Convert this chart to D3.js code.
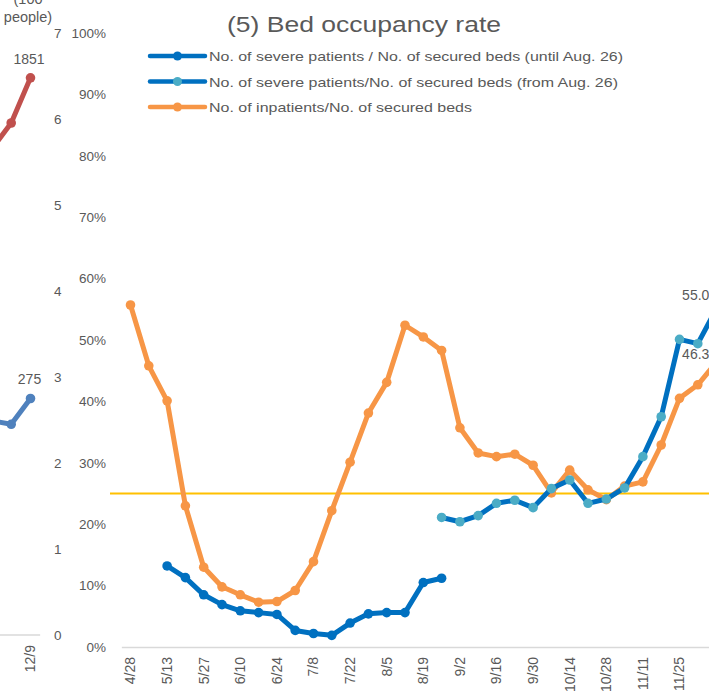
<!DOCTYPE html>
<html><head><meta charset="utf-8">
<script src="https://cdn.jsdelivr.net/npm/d3@7"></script>
<style>body{margin:0;background:#fff}svg{display:block}text{font-family:"Liberation Sans",Arial,sans-serif;fill:#595959}</style>
</head><body>
<svg id="c" width="709" height="691"></svg>
<script>
const categories = ["4/28","5/6","5/13","5/20","5/27","6/3","6/10","6/17","6/24","7/1","7/8","7/15","7/22","7/29","8/5","8/12","8/19","8/26","9/2","9/9","9/16","9/23","9/30","10/7","10/14","10/21","10/28","11/4","11/11","11/18","11/25","12/2","12/9"];
const inpatientsRate = [55.7,45.8,40.1,23.0,13.0,9.8,8.5,7.3,7.4,9.2,13.9,22.2,30.1,38.1,43.1,52.4,50.5,48.3,35.7,31.6,31.0,31.4,29.6,25.1,28.8,25.6,24.0,26.2,26.9,32.9,40.5,42.7,46.3];
const severeUntil = [null,null,13.2,11.3,8.5,6.9,5.9,5.6,5.3,2.7,2.2,1.9,3.9,5.4,5.6,5.6,10.5,11.2,null,null,null,null,null,null,null,null,null,null,null,null,null,null,null];
const severeFrom = [null,null,null,null,null,null,null,null,null,null,null,null,null,null,null,null,null,21.1,20.4,21.4,23.4,23.9,22.7,25.8,27.2,23.4,24.1,25.9,31.0,37.5,50.1,49.4,55.0];
const thresholdRate = 25;
const pctTicks = [0,10,20,30,40,50,60,70,80,90,100];
const labelCats = categories.filter((d,i)=>i%2===0);
const seriesNames = ["No. of severe patients / No. of secured beds (until Aug. 26)","No. of severe patients/No. of secured beds (from Aug. 26)","No. of inpatients/No. of secured beds"];
// neighbouring (cropped) chart on the left
const leftCategories = ["11/25","12/2","12/9"];
const leftRedValues = [1615,1701,1851];
const leftBlueValues = [2.49,2.45,2.75];
const leftTicks = [0,1,2,3,4,5,6,7];

const C = {dark:"#0070C0", light:"#4BACC6", orange:"#F79646", red:"#C0504D", blue2:"#4F81BD", yellow:"#FFC000", axis:"#D9D9D9"};
const svg = d3.select("#c");

// ---------- left cropped chart ----------
const lx = d3.scaleBand().domain(leftCategories).range([-17.75, 40.15]).padding(0);
const lcx = d => lx(d)+lx.bandwidth()/2;
const lyRight = d3.scaleLinear().domain([0,7]).range([635,33]);
const lyLeft = d3.scaleLinear().domain([0,2000]).range([635,33]);
const gl = svg.append("g");
gl.append("line").attr("x1",0).attr("x2",lx.range()[1]).attr("y1",635).attr("y2",635).attr("stroke",C.axis).attr("stroke-width",1.5);
gl.append("g").attr("transform","translate(54,0)").call(d3.axisRight(lyRight).tickValues(leftTicks).tickSize(0).tickPadding(0).tickFormat(d3.format("d")))
  .call(g=>g.select(".domain").remove()).selectAll("text").attr("font-size",13.5).style("fill","#595959");
gl.append("text").attr("x",28).attr("y",4).attr("text-anchor","middle").attr("font-size",14.5).text("(100");
gl.append("text").attr("x",28).attr("y",22).attr("text-anchor","middle").attr("font-size",14.5).text("people)");
gl.append("text").attr("transform",`translate(${lcx("12/9")},645) rotate(-90)`).attr("text-anchor","end").attr("dy","0.35em").attr("font-size",14).text("12/9");
const lineRed = d3.line().x((d,i)=>lcx(leftCategories[i])).y(d=>lyLeft(d));
const lineBlue2 = d3.line().x((d,i)=>lcx(leftCategories[i])).y(d=>lyRight(d));
gl.append("path").datum(leftRedValues).attr("d",lineRed).attr("fill","none").attr("stroke",C.red).attr("stroke-width",5).attr("stroke-linejoin","round");
gl.append("path").datum(leftBlueValues).attr("d",lineBlue2).attr("fill","none").attr("stroke",C.blue2).attr("stroke-width",5).attr("stroke-linejoin","round");
gl.selectAll(".rm").data(leftRedValues).join("circle").attr("cx",(d,i)=>lcx(leftCategories[i])).attr("cy",d=>lyLeft(d)).attr("r",4.8).attr("fill",C.red);
gl.selectAll(".bm").data(leftBlueValues).join("circle").attr("cx",(d,i)=>lcx(leftCategories[i])).attr("cy",d=>lyRight(d)).attr("r",4.8).attr("fill",C.blue2);
gl.append("text").attr("x",lcx("12/9")-1.5).attr("y",lyLeft(leftRedValues[2])-19).attr("dy","0.35em").attr("text-anchor","middle").attr("font-size",14).text(leftRedValues[2]);
gl.append("text").attr("x",lcx("12/9")-1).attr("y",lyRight(leftBlueValues[2])-19).attr("dy","0.35em").attr("text-anchor","middle").attr("font-size",14).text(Math.round(leftBlueValues[2]*100));

// ---------- main chart ----------
const x = d3.scaleBand().domain(categories).range([121.35, 121.35+18.3*categories.length]).padding(0);
const cx = d => x(d)+x.bandwidth()/2;
const y = d3.scaleLinear().domain([0,100]).range([647,33]);

// y axis labels
svg.append("g").attr("transform","translate(109,0)")
  .call(d3.axisLeft(y).tickValues(pctTicks).tickSize(0).tickPadding(3).tickFormat(d=>d+"%"))
  .call(g=>g.select(".domain").remove())
  .selectAll("text").attr("font-size",13.5).style("fill","#595959");

// x axis
const xa = svg.append("g").attr("transform","translate(0,647)")
  .call(d3.axisBottom(x).tickValues(labelCats).tickSize(0).tickPadding(0));
xa.select(".domain").attr("stroke",C.axis).attr("stroke-width",1.5);
xa.selectAll("text").attr("font-size",14).style("fill","#595959")
  .attr("text-anchor","end").attr("transform","translate(0,10) rotate(-90)").attr("x",0).attr("y",0).attr("dy","0.35em");

// threshold line
svg.append("line").attr("x1",110).attr("x2",720).attr("y1",y(thresholdRate)).attr("y2",y(thresholdRate)).attr("stroke",C.yellow).attr("stroke-width",2);

function drawSeries(vals, lineColor, markerColor){
  const pts = vals.map((v,i)=>({c:categories[i],v})).filter(d=>d.v!==null);
  svg.append("path").datum(pts).attr("d",d3.line().x(d=>cx(d.c)).y(d=>y(d.v)))
    .attr("fill","none").attr("stroke",lineColor).attr("stroke-width",5).attr("stroke-linejoin","round");
  svg.append("g").selectAll("circle").data(pts).join("circle")
    .attr("cx",d=>cx(d.c)).attr("cy",d=>y(d.v)).attr("r",4.8).attr("fill",markerColor);
}
drawSeries(inpatientsRate, C.orange, C.orange);
drawSeries(severeUntil, C.dark, C.dark);
drawSeries(severeFrom, C.dark, C.light);

// data labels for last points
const last = categories[categories.length-1];
svg.append("text").attr("x",cx(last)-34).attr("y",y(severeFrom[severeFrom.length-1])-14).attr("dy","0.35em").attr("font-size",14).text(severeFrom[severeFrom.length-1].toFixed(1));
svg.append("text").attr("x",cx(last)-34).attr("y",y(inpatientsRate[inpatientsRate.length-1])-9).attr("dy","0.35em").attr("font-size",14).text(inpatientsRate[inpatientsRate.length-1].toFixed(1));

// title
svg.append("text").attr("x",227).attr("y",31.5).attr("font-size",22.5).attr("textLength",274).attr("lengthAdjust","spacingAndGlyphs").text("(5) Bed occupancy rate");

// legend
const legendWidths = [414,409,263];
const legend = [{name:seriesNames[0],line:C.dark,mk:C.dark},{name:seriesNames[1],line:C.dark,mk:C.light},{name:seriesNames[2],line:C.orange,mk:C.orange}];
const lg = svg.append("g");
legend.forEach((d,i)=>{
  const yy = 56 + i*25.5;
  lg.append("line").attr("x1",150).attr("x2",205).attr("y1",yy).attr("y2",yy).attr("stroke",d.line).attr("stroke-width",4.5).attr("stroke-linecap","round");
  lg.append("circle").attr("cx",177.5).attr("cy",yy).attr("r",4.5).attr("fill",d.mk);
  lg.append("text").attr("x",209).attr("y",yy+5).attr("font-size",13.5).attr("textLength",legendWidths[i]).attr("lengthAdjust","spacingAndGlyphs").text(d.name);
});
</script>
</body></html>
